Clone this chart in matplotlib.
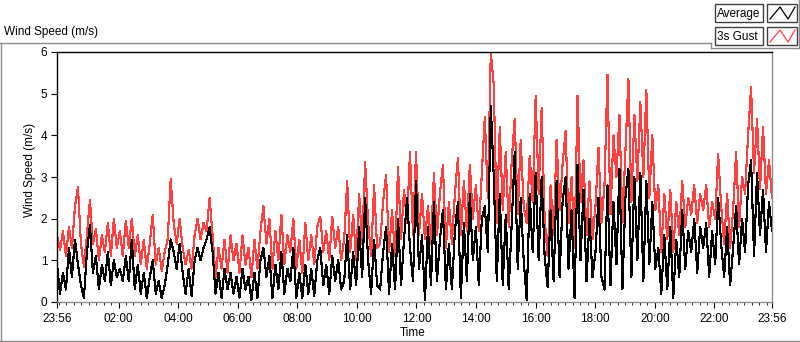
import numpy as np
import matplotlib
matplotlib.use('Agg')
import matplotlib.pyplot as plt
from matplotlib.lines import Line2D
from matplotlib.patches import Rectangle

plt.rcParams['font.family'] = ['Liberation Sans', 'DejaVu Sans']

W, H = 800, 342

# minutes after 23:56, sampled every ~6 minutes over the day
gust = [
    1.6, 1.25, 1.7, 1.1, 1.8, 1.3, 2.3, 2.75, 1.4, 0.85, 1.6, 2.45,
    1.4, 1.75, 1.0, 1.6, 1.2, 1.9, 1.1, 2.0, 1.3, 1.7, 1.1, 1.95,
    1.3, 2.0, 1.1, 1.6, 0.9, 1.5, 0.8, 1.4, 2.1, 0.9, 1.3, 0.75,
    1.2, 1.5, 2.95, 1.9, 1.4, 2.0, 1.3, 0.9, 1.25, 0.8, 1.6, 2.0,
    1.5, 1.9, 1.7, 2.5, 1.6, 0.6, 1.3, 0.8, 1.5, 0.7, 1.6, 1.0,
    1.4, 0.7, 1.6, 0.9, 1.3, 0.6, 1.5, 0.8, 1.7, 2.3, 1.4, 2.0,
    0.8, 1.7, 1.0, 2.1, 0.9, 1.6, 1.2, 2.0, 0.8, 1.5, 0.7, 1.9,
    1.0, 1.6, 0.9, 1.8, 2.05, 1.2, 1.7, 1.0, 2.05, 1.3, 1.8, 1.0,
    1.5, 2.9, 1.2, 2.1, 1.0, 2.6, 1.4, 3.35, 1.9, 1.1, 2.8, 1.3,
    1.4, 2.4, 3.05, 1.2, 2.2, 1.1, 3.25, 1.5, 2.7, 1.9, 3.6, 1.6,
    3.6, 1.6, 2.6, 1.5, 2.3, 1.4, 3.1, 1.6, 2.6, 3.3, 1.3, 2.4,
    1.4, 2.6, 3.45, 1.6, 2.9, 1.7, 3.3, 2.0, 2.8, 1.7, 3.1, 4.45,
    2.5, 6.0, 5.2, 1.9, 4.2, 2.2, 3.6, 1.8, 3.4, 4.4, 2.1, 3.9,
    2.3, 1.9, 3.5, 2.4, 4.95, 2.6, 4.65, 2.0, 1.1, 2.8, 1.6, 3.9,
    2.2, 3.3, 4.1, 1.9, 3.0, 1.3, 4.95, 2.4, 3.4, 1.6, 2.9, 1.5,
    2.3, 3.7, 1.9, 2.8, 5.45, 2.1, 4.0, 3.0, 4.5, 1.9, 3.6, 5.35,
    2.4, 4.5, 2.9, 4.8, 3.0, 5.1, 2.5, 4.0, 2.2, 2.8, 1.2, 2.6,
    1.5, 2.7, 1.2, 2.4, 1.6, 2.9, 1.8, 2.5, 2.1, 2.8, 1.9, 2.6,
    2.2, 2.8, 1.8, 2.4, 2.0, 3.55, 2.3, 1.4, 2.6, 1.3, 2.2, 3.6,
    1.8, 3.0, 2.6, 4.0, 5.15, 3.1, 4.4, 2.7, 4.2, 2.6, 3.4, 2.5,
]
average = [
    0.9, 0.2, 0.7, 0.3, 1.3, 0.6, 1.5, 0.9, 0.4, 0.1, 1.2, 1.85,
    0.7, 1.1, 0.3, 0.9, 0.5, 1.2, 0.4, 1.0, 0.6, 0.8, 0.5, 1.1,
    0.5, 1.5, 0.3, 0.9, 0.2, 0.7, 0.1, 0.6, 1.0, 0.2, 0.5, 0.1,
    0.4, 0.9, 1.5, 1.2, 0.8, 1.4, 0.7, 0.2, 0.8, 0.15, 1.0, 1.3,
    1.0, 1.3, 1.5, 1.8, 1.2, 0.2, 0.7, 0.1, 0.8, 0.3, 0.7, 0.2,
    0.6, 0.1, 0.8, 0.3, 0.6, 0.05, 0.7, 0.1, 1.0, 1.3, 0.6, 1.1,
    0.1, 0.9, 0.3, 1.2, 0.2, 0.8, 0.5, 1.3, 0.1, 0.7, 0.1, 0.9,
    0.2, 0.8, 0.15, 1.0, 1.3, 0.4, 0.9, 0.2, 1.1, 0.5, 1.0, 0.3,
    0.5, 1.6, 0.3, 1.2, 0.4, 1.8, 0.6, 2.5, 1.0, 0.2, 1.5, 0.4,
    0.3, 1.2, 1.8, 0.2, 1.4, 0.3, 2.0, 0.4, 1.5, 2.5, 1.3, 0.5,
    2.9, 0.8, 1.6, 0.05, 1.8, 0.4, 2.4, 0.5, 1.5, 2.2, 0.3, 1.4,
    0.3, 1.7, 2.4, 0.1, 1.9, 0.5, 2.6, 1.0, 1.8, 0.4, 2.0, 2.3,
    1.2, 4.7, 3.0, 0.5, 2.6, 0.4, 2.1, 0.3, 1.9, 3.6, 0.8, 2.5,
    1.0, 0.05, 2.6, 1.2, 3.1, 1.0, 3.0, 1.1, 0.35, 2.2, 0.5, 2.9,
    0.6, 2.4, 3.0, 0.8, 2.2, 0.1, 3.3, 1.0, 2.7, 0.5, 2.0, 0.6,
    1.2, 2.5, 0.6, 0.3, 2.8, 0.4, 2.4, 0.9, 3.2, 0.3, 2.5, 3.2,
    0.6, 3.0, 1.0, 3.1, 0.5, 2.9, 0.9, 2.4, 0.8, 1.3, 0.2, 1.6,
    0.3, 1.8, 0.1, 1.5, 0.6, 2.2, 0.8, 1.7, 1.2, 2.0, 0.7, 1.8,
    1.3, 1.9, 0.6, 1.7, 0.9, 2.5, 1.4, 0.6, 1.8, 0.4, 1.3, 2.3,
    0.9, 2.0, 1.2, 2.8, 3.4, 1.1, 3.1, 1.6, 2.7, 1.2, 2.4, 1.7,
]

# ticks: minutes after 23:56
tick_minutes = [0, 124, 244, 364, 484, 604, 724, 844, 964, 1084, 1204, 1324, 1440]
tick_labels = ['23:56', '02:00', '04:00', '06:00', '08:00', '10:00', '12:00',
               '14:00', '16:00', '18:00', '20:00', '22:00', '23:56']
minor_minutes = list(range(4, 1440, 15))

RED = '#ff4040'
GRAY = '#8c8c8c'


def fx(x):
    return x / W


def fy(y):
    return 1 - y / H


fig = plt.figure(figsize=(8, 3.42), dpi=100)
fig.patch.set_facecolor('white')

ax = fig.add_axes([fx(57), fy(302), fx(772) - fx(57), fy(52) - fy(302)])
t = np.linspace(0, 1440, len(gust))
ax.plot(t, gust, color=RED, lw=0.8, antialiased=False, zorder=2)
ax.plot(t, average, color='black', lw=0.8, antialiased=False, zorder=3)

ax.set_xlim(0, 1440)
ax.set_ylim(0, 6)
ax.set_yticks(range(0, 7))
ax.set_xticks(tick_minutes)
ax.set_xticklabels(tick_labels)
ax.set_xticks(minor_minutes, minor=True)
ax.tick_params(axis='both', labelsize=8.5, color='black', direction='out')
ax.tick_params(axis='x', which='major', length=4, pad=4)
ax.tick_params(axis='x', which='minor', length=2)
ax.tick_params(axis='y', length=4, pad=3)

ax.spines['left'].set_color('black')
ax.spines['top'].set_color('black')
ax.spines['right'].set_color(GRAY)
ax.spines['bottom'].set_color(GRAY)
for s in ax.spines.values():
    s.set_linewidth(1.0)

# labels
fig.text(fx(4), fy(32), 'Wind Speed (m/s)', fontsize=8.5, ha='left', va='center')
fig.text(fx(30), fy(170), 'Wind Speed (m/s)', fontsize=8.5, rotation=90,
         ha='center', va='center')
fig.text(fx(413), fy(333), 'Time', fontsize=8.5, ha='center', va='center')

# frame lines (LabVIEW style panel)
frame = [
    ([0, 711], [42.5, 42.5]),
    ([711, 711], [42.5, 48]),
    ([711, 800], [48, 48]),
    ([799, 799], [0, 48]),
    ([0.5, 0.5], [42.5, 341]),
    ([0, 800], [341, 341]),
]
for xs, ys in frame:
    fig.add_artist(Line2D([fx(v) for v in xs], [fy(v) for v in ys],
                          color=GRAY, lw=1.0))

# legend
legend_rows = [('Average', 'black', 4), ('3s Gust', RED, 27)]
for name, col, top in legend_rows:
    fig.add_artist(Rectangle((fx(715), fy(top + 18)), fx(48), 18 / H,
                             facecolor='white', edgecolor='#404040', lw=1.0))
    fig.text(fx(717), fy(top + 9.5), name, fontsize=8.5, ha='left', va='center')
    fig.add_artist(Rectangle((fx(767), fy(top + 18)), fx(30), 18 / H,
                             facecolor='white', edgecolor='#404040', lw=1.0))
    ix = [770, 780, 788, 795]
    iy = [top + 15, top + 3, top + 15, top + 3]
    fig.add_artist(Line2D([fx(v) for v in ix], [fy(v) for v in iy],
                          color=col, lw=0.9))

fig.savefig('out.png', dpi=100)
